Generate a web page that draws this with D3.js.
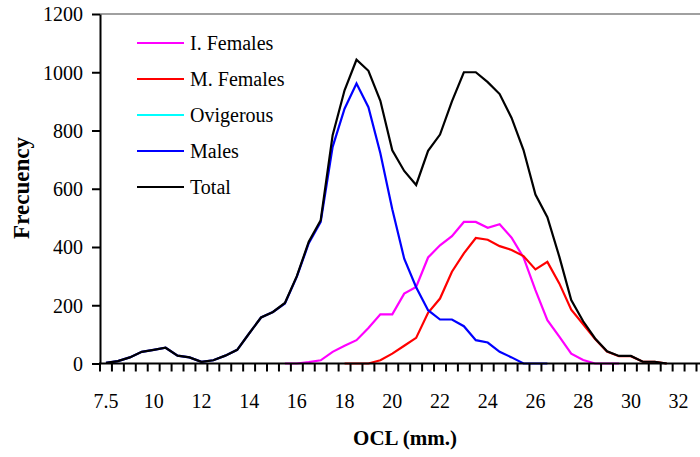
<!DOCTYPE html>
<html>
<head>
<meta charset="utf-8">
<script src="https://cdn.jsdelivr.net/npm/d3@7"></script>
<style>
  html, body { margin: 0; padding: 0; background: #fff; }
  svg { display: block; }
  text { font-family: "Liberation Serif", "Times New Roman", serif; fill: #000; }
</style>
</head>
<body>
<svg id="chart" width="700" height="457"></svg>
<script>
// Size classes (OCL, mm), one per 0.5 mm
const categories = ["7.5","8.5","9","9.5","10","10.5","11","11.5","12","12.5",
  "13","13.5","14","14.5","15","15.5","16","16.5","17","17.5",
  "18","18.5","19","19.5","20","20.5","21","21.5","22","22.5",
  "23","23.5","24","24.5","25","25.5","26","26.5","27","27.5",
  "28","28.5","29","29.5","30","30.5","31","31.5","32","32.5"];

const tickLabels = ["7.5","10","12","14","16","18","20","22","24","26","28","30","32"];
const yTicks = [0, 200, 400, 600, 800, 1000, 1200];

const _ = null;
const immatureFemales = [_,_,_,_,_,_,_,_,_,_, _,_,_,_,_,0,0,5,11,40,
  61,80,122,169,169,240,263,364,406,437, 486,486,466,478,432,364,252,149,92,34,
  12,0,0,0,_,_,_,_,_,_];
const matureFemales = [_,_,_,_,_,_,_,_,_,_, _,_,_,_,_,_,_,_,_,_,
  0,0,0,11,34,61,88,174,223,315, 378,431,425,403,390,369,323,349,275,185,
  135,84,41,25,25,6,6,0,_,_];
const ovigerous = [_,_,_,_,_,_,_,_,_,_, _,_,_,_,_,_,_,_,_,_,
  _,_,_,_,_,_,_,_,_,_, _,_,_,_,_,_,_,_,_,_, _,_,_,_,_,_,_,_,_,_];
const males = [2,8,21,40,47,54,27,21,6,11, 27,47,103,158,177,206,298,413,486,744,
  875,961,880,722,530,360,262,183,151,151, 128,80,72,40,21,0,0,0,_,_,
  _,_,_,_,_,_,_,_,_,_];
const total = [2,8,21,40,47,54,27,21,6,11, 27,47,103,158,177,208,300,418,492,784,
  938,1043,1005,902,732,661,613,730,786,900, 1000,1000,966,925,843,733,580,502,367,218,
  145,86,42,26,26,6,6,0,_,_];

const seriesNames = ["I. Females", "M. Females", "Ovigerous", "Males", "Total"];
const seriesValues = [immatureFemales, matureFemales, ovigerous, males, total];
const seriesColors = ["#ff00ff", "#ff0000", "#00ffff", "#0000ff", "#000000"];

const serif = "'Liberation Serif', 'Times New Roman', serif";
const svg = d3.select("#chart");
const plotLeft = 100, plotTop = 14, plotBottom = 363.5;
const band = 11.93;
const plotRight = plotLeft + band * categories.length;

const x = d3.scaleBand().domain(categories).range([plotLeft, plotRight]).padding(0);
const y = d3.scaleLinear().domain([0, 1200]).range([plotBottom, plotTop]);

// plot area top border
svg.append("line")
  .attr("x1", plotLeft).attr("x2", 700)
  .attr("y1", plotTop).attr("y2", plotTop)
  .attr("stroke", "#808080").attr("stroke-width", 1.5);

// series lines
const line = d3.line()
  .defined(d => d.v !== null)
  .x(d => x(d.c) + x.bandwidth() / 2)
  .y(d => y(d.v));

seriesValues.forEach((vals, k) => {
  const pts = categories.map((c, i) => ({ c, v: vals[i] }));
  if (!pts.some(p => p.v !== null)) return;
  svg.append("path")
    .datum(pts)
    .attr("fill", "none")
    .attr("stroke", seriesColors[k])
    .attr("stroke-width", 2.2)
    .attr("stroke-linejoin", "miter")
    .attr("d", line);
});

// y axis
const yAxis = d3.axisLeft(y).tickValues(yTicks).tickFormat(d3.format("d"))
  .tickSize(8).tickPadding(9).tickSizeOuter(0);
const gy = svg.append("g").attr("transform", `translate(${plotLeft},0)`).call(yAxis)
  .attr("font-family", serif).attr("font-size", 20);
gy.select(".domain").attr("stroke", "#000").attr("stroke-width", 2);
gy.selectAll(".tick line").attr("stroke", "#000").attr("stroke-width", 2);
gy.selectAll(".tick text")
  .attr("font-family", serif).style("font-family", serif)
  .style("font-size", "20px").attr("dy", "0.34em");

// x axis: ticks on class boundaries, labels centred on every 4th class
const gx = svg.append("g");
gx.append("line")
  .attr("x1", plotLeft - 1).attr("x2", 700)
  .attr("y1", plotBottom).attr("y2", plotBottom)
  .attr("stroke", "#000").attr("stroke-width", 2);
const edges = categories.map(c => x(c)).concat([plotRight]);
gx.selectAll("line.tk").data(edges).join("line")
  .attr("class", "tk")
  .attr("x1", d => d).attr("x2", d => d)
  .attr("y1", plotBottom).attr("y2", plotBottom + 8)
  .attr("stroke", "#000").attr("stroke-width", 2);
gx.selectAll("text").data(tickLabels).join("text")
  .attr("x", d => x(d) + x.bandwidth() / 2)
  .attr("y", 408)
  .attr("text-anchor", "middle")
  .style("font-family", serif)
  .style("font-size", "20px")
  .text(d => d);

// axis titles
svg.append("text")
  .attr("transform", "translate(29,188) rotate(-90)")
  .attr("text-anchor", "middle")
  .style("font-family", serif)
  .style("font-size", "23px").style("font-weight", "bold")
  .text("Frecuency");
svg.append("text")
  .attr("x", 405).attr("y", 445)
  .attr("text-anchor", "middle")
  .style("font-family", serif)
  .style("font-size", "21px").style("font-weight", "bold")
  .text("OCL (mm.)");

// legend
const lg = svg.append("g");
seriesNames.forEach((name, k) => {
  const ly = 43 + k * 36;
  lg.append("line")
    .attr("x1", 137).attr("x2", 184)
    .attr("y1", ly).attr("y2", ly)
    .attr("stroke", seriesColors[k]).attr("stroke-width", 2.2);
  lg.append("text")
    .attr("x", 190).attr("y", ly + 7)
    .style("font-family", serif)
    .style("font-size", "20px")
    .text(name);
});
</script>
</body>
</html>
